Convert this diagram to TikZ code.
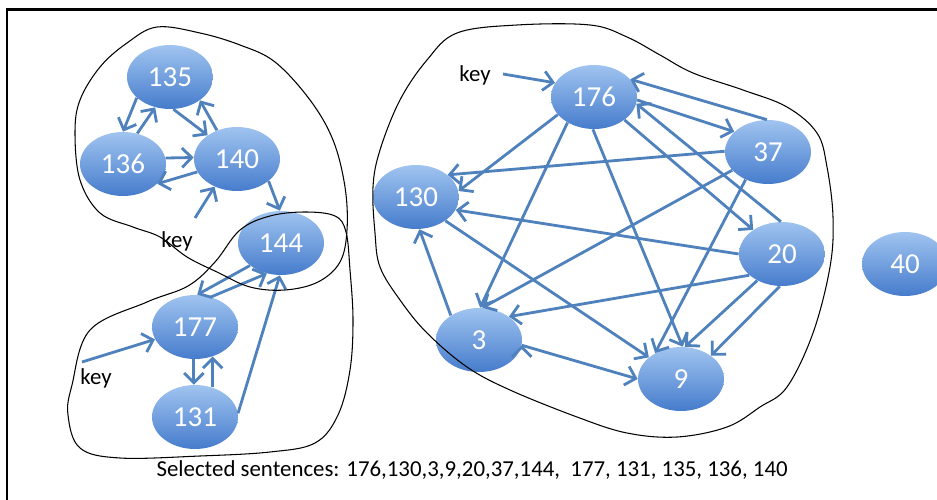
\documentclass[tikz,border=0pt]{standalone}
\usepackage{fontspec}
\setmainfont{Carlito}
\usepackage{tikz}
\usetikzlibrary{arrows.meta,shapes.geometric}
\definecolor{linkcol}{RGB}{79,129,189}
\definecolor{sentop}{RGB}{160,196,240}
\definecolor{senbot}{RGB}{70,124,204}
\tikzstyle{sent}=[ellipse, top color=sentop, bottom color=senbot, minimum width=1.72cm, minimum height=1.28cm, inner sep=0pt, text=white, font=\fontsize{16.5}{16.5}\selectfont]
\tikzstyle{lbl}=[font=\fontsize{13}{13}\selectfont]
\tikzstyle{link}=[draw=linkcol, line width=1.6pt, >={Straight Barb[length=5.5pt,width=11pt]}]
\tikzstyle{blob}=[draw=black, line width=0.6pt]

\begin{document}
\begin{tikzpicture}[x=0.02cm,y=-0.02cm]
    \useasboundingbox (0,0) rectangle (937,500);
    \draw[line width=1.3pt] (7,500) -- (7,9.5) -- (937,9.5);

    % first group
    \node [sent] (s135) at (170,77) {135};
    \node [sent] (s136) at (123,164) {136};
    \node [sent] (s140) at (237,159) {140};
    \node [sent] (s144) at (281,243) {144};
    \node [lbl] (k1) at (177,241) {key};
    \coordinate (k1a) at (195,218);
    % second group
    \node [sent] (s177) at (195,327) {177};
    \node [sent] (s131) at (195,417) {131};
    \node [lbl] (k2) at (96,378) {key};
    \coordinate (k2a) at (82,362);
    % third group
    \node [sent] (s176) at (594,97) {176};
    \node [sent] (s37) at (768,152) {37};
    \node [sent] (s130) at (416,197) {130};
    \node [sent] (s20) at (782,254) {20};
    \node [sent] (s3) at (479,340) {3};
    \node [sent] (s9) at (681,379) {9};
    \node [lbl] (k3) at (475,75) {key};
    \coordinate (k3a) at (503,74);
    \node [sent] (s40) at (905,264) {40};

    \node [lbl] (sel) at (472,470) {Selected sentences: 176,130,3,9,20,37,144,\ \ 177, 131, 135, 136, 140};

    \path[link,->]
    (s135.212) edge (s136.90)
    (s136.65) edge (s135.244)
    (s135.276) edge (s140.141)
    (s140.125) edge (s135.322)
    (s136.8) edge (s140.178)
    (s140.198) edge (s136.-30)
    (s140.-35) edge (s144.92)
    (k1a) edge (s140.231)
    (s144.216) edge (s177.86)
    (s177.62) edge (s144.245)
    (s131.5) edge (s144.268)
    (s177.268) edge (s131.92)
    (s131.59) edge (s177.301)
    (k2a) edge (s177)
    (k3a) edge (s176.160)
    (s37.92) edge (s176.26)
    (s176.356) edge (s37.149)
    (s20.92) edge (s176.351)
    (s176.323) edge (s20.140)
    (s176.206) edge (s130.8)
    (s176.224) edge (s3.88)
    (s176.268) edge (s9.87)
    (s37.179) edge (s130.35)
    (s37.207) edge (s3.84)
    (s37.231) edge (s9.135)
    (s20.180) edge (s130.342)
    (s20.213) edge (s3.38)
    (s20.227) edge (s9.83)
    (s20.266) edge (s9.38)
    (s130.321) edge (s9.146)
    (s3.139) edge (s130.276)
    (s3.353) edge (s9.180);

    \draw[blob] plot[smooth cycle, tension=0.6] coordinates {(157,27) (200,33) (240,45) (275,62) (310,100) (333,140) (345,187) (347,230) (340,262) (318,282) (285,290) (250,287) (217,272) (187,257) (160,237) (133,227) (100,213) (80,180) (75,133) (80,100) (100,67) (127,43)};
    \draw[blob] plot[smooth cycle, tension=0.6] coordinates {(90,330) (147,302) (188,286) (215,262) (240,230) (270,216) (305,212) (335,216) (346,232) (350,270) (353,320) (350,370) (338,415) (315,443) (270,452) (200,456) (120,458) (80,448) (68,415) (72,385)};
    \draw[blob] plot[smooth cycle, tension=0.6] coordinates {(457,33) (517,25) (590,25) (627,37) (660,55) (693,73) (743,90) (787,107) (817,133) (827,167) (833,217) (830,267) (813,333) (787,387) (760,407) (727,427) (677,437) (627,433) (577,417) (510,390) (467,367) (427,333) (400,300) (380,267) (375,233) (373,187) (380,150) (400,100) (427,60)};
\end{tikzpicture}
\end{document}
